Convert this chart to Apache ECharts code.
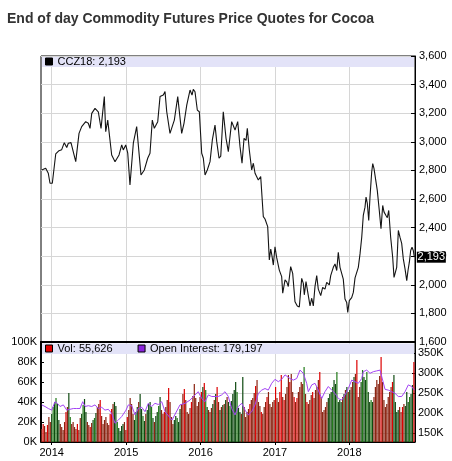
<!DOCTYPE html>
<html>
<head>
<meta charset="utf-8">
<title>Cocoa futures</title>
<script src="https://cdn.jsdelivr.net/npm/echarts@6/dist/echarts.min.js"></script>
<style>
  html, body { margin: 0; padding: 0; background: #fff; }
  #chart { width: 452px; height: 461px; }
</style>
</head>
<body>
<div id="chart"></div>
<script>
// x values are decimal years (2014.5 = mid 2014)
const yearTicks = [2014, 2015, 2016, 2017, 2018];
const oiTicks = [150, 200, 250, 300, 350];

const lastPrice = 2193;
const lastVol = 55626;
const lastOI = 179197;

// CCZ18 close
const priceData = [
  [2013.866,2803],[2013.887,2790],[2013.919,2815],[2013.954,2780],[2013.977,2710],[2014.008,2710],
  [2014.054,2915],[2014.098,2938],[2014.134,2945],[2014.169,2994],[2014.202,2960],[2014.223,2990],
  [2014.259,2994],[2014.323,2861],[2014.367,3059],[2014.403,3106],[2014.457,3141],[2014.492,3130],
  [2014.515,3094],[2014.538,3199],[2014.582,3234],[2014.626,3210],[2014.663,3094],[2014.707,3316],
  [2014.726,3071],[2014.753,3152],[2014.806,2908],[2014.851,2861],[2014.905,2908],[2014.941,2978],
  [2014.962,2943],[2014.995,2978],[2015.022,2920],[2015.052,2698],[2015.097,2990],[2015.142,3106],
  [2015.200,2768],[2015.245,2803],[2015.290,2885],[2015.321,2920],[2015.352,3152],[2015.379,3094],
  [2015.425,3141],[2015.456,3316],[2015.500,3327],[2015.523,3351],[2015.546,3210],[2015.590,3059],
  [2015.648,3152],[2015.694,3316],[2015.747,3059],[2015.778,3129],[2015.815,3257],[2015.836,3245],
  [2015.859,3362],[2015.886,3327],[2015.903,3367],[2015.926,3350],[2015.957,3222],[2015.984,3210],
  [2016.016,2920],[2016.038,2885],[2016.061,2768],[2016.091,2803],[2016.128,2861],[2016.159,3013],
  [2016.195,3117],[2016.218,3001],[2016.249,2885],[2016.272,2900],[2016.306,3210],[2016.343,3024],
  [2016.374,2931],[2016.419,3141],[2016.464,3082],[2016.500,3141],[2016.531,2966],[2016.558,2850],
  [2016.585,3024],[2016.612,3010],[2016.629,3094],[2016.656,2943],[2016.688,2803],[2016.710,2850],
  [2016.733,2780],[2016.755,2768],[2016.777,2733],[2016.809,2757],[2016.844,2477],[2016.867,2460],
  [2016.903,2407],[2016.925,2174],[2016.944,2250],[2016.961,2200],[2016.979,2138],[2017.001,2266],
  [2017.024,2190],[2017.059,2103],[2017.091,2057],[2017.105,1941],[2017.136,2034],[2017.159,2020],
  [2017.180,1988],[2017.212,2127],[2017.239,2080],[2017.270,1882],[2017.301,1852],[2017.328,1845],
  [2017.360,2045],[2017.382,2010],[2017.395,1930],[2017.418,2022],[2017.441,2010],[2017.472,1852],
  [2017.495,1906],[2017.516,1852],[2017.539,1989],[2017.562,2064],[2017.583,1970],[2017.616,1924],
  [2017.642,1982],[2017.673,1970],[2017.696,2017],[2017.731,2000],[2017.750,2064],[2017.785,2122],
  [2017.808,2146],[2017.831,2100],[2017.852,2228],[2017.875,2122],[2017.898,2110],[2017.919,2040],
  [2017.942,1901],[2017.965,1877],[2017.979,1807],[2018.000,1889],[2018.032,1910],[2018.054,1947],
  [2018.077,2048],[2018.100,2040],[2018.121,2122],[2018.144,2216],[2018.167,2333],[2018.188,2485],
  [2018.211,2543],[2018.225,2613],[2018.242,2570],[2018.261,2450],[2018.278,2613],[2018.301,2789],
  [2018.315,2847],[2018.332,2812],[2018.346,2800],[2018.376,2660],[2018.403,2520],[2018.426,2392],
  [2018.449,2555],[2018.466,2510],[2018.493,2485],[2018.511,2470],[2018.530,2520],[2018.556,2333],
  [2018.583,2193],[2018.601,2052],[2018.637,2122],[2018.659,2380],[2018.681,2333],[2018.704,2290],
  [2018.726,2181],[2018.749,2111],[2018.772,2029],[2018.789,2100],[2018.807,2158],[2018.825,2240],
  [2018.843,2263],[2018.860,2240],[2018.874,2193]
];

// open interest, thousands
const oiData = [
  [2013.866,221],[2013.910,217],[2013.954,212],[2014.000,208],[2014.044,229],[2014.075,225],
  [2014.112,217],[2014.156,221],[2014.202,208],[2014.246,210],[2014.290,212],[2014.336,212],
  [2014.380,212],[2014.417,229],[2014.448,217],[2014.492,219],[2014.538,217],[2014.582,221],
  [2014.626,212],[2014.672,215],[2014.716,208],[2014.761,210],[2014.806,200],[2014.851,175],
  [2014.895,183],[2014.941,192],[2014.999,208],[2015.030,221],[2015.075,219],[2015.120,196],
  [2015.164,212],[2015.210,215],[2015.254,204],[2015.298,225],[2015.344,217],[2015.388,225],
  [2015.433,222],[2015.479,229],[2015.523,204],[2015.617,183],[2015.724,221],[2015.792,225],
  [2015.859,233],[2015.926,246],[2015.970,254],[2016.016,237],[2016.061,229],[2016.105,246],
  [2016.151,242],[2016.239,242],[2016.285,246],[2016.329,254],[2016.374,242],[2016.419,212],
  [2016.464,196],[2016.508,217],[2016.554,225],[2016.598,208],[2016.643,196],[2016.688,204],
  [2016.733,221],[2016.777,250],[2016.823,258],[2016.867,262],[2016.911,258],[2016.957,275],
  [2017.001,285],[2017.046,279],[2017.091,285],[2017.136,296],[2017.203,287],[2017.247,283],
  [2017.293,287],[2017.337,308],[2017.382,300],[2017.427,275],[2017.449,254],[2017.495,271],
  [2017.539,275],[2017.583,258],[2017.629,237],[2017.673,254],[2017.718,267],[2017.763,258],
  [2017.808,250],[2017.852,237],[2017.898,233],[2017.942,246],[2017.987,262],[2018.032,283],
  [2018.077,279],[2018.121,275],[2018.167,287],[2018.188,304],[2018.234,308],[2018.278,300],
  [2018.323,304],[2018.368,306],[2018.413,308],[2018.436,304],[2018.480,260],[2018.524,258],
  [2018.570,254],[2018.614,250],[2018.659,242],[2018.704,242],[2018.749,254],[2018.793,271],
  [2018.839,267],[2018.874,258]
];

// weekly volume, thousands, first week = 8 Nov 2013
const volStart = 2013.866;
const volume = [
  13,18,16,10,17,25,20, 28,35,40,44,38,22, 18,15,12,20,30,35,49,25,
  18,20,15,13,18,12, 24,28,37,43,30, 20,17,15,19,22, 24,29,35,38,42,26,
  18,22,25,19,17, 28,33,38,40,36,20, 14,11,16,18,20,12, 25,32,44,38,28,
  22,30,35,40,48,33,26,21, 28,32,38,40,35,24, 20,26,30,36,45,32,28,
  30,35,42,54,40,25, 18,22,26,24,20, 33,38,48,53,42,30, 28,34,40,46,58,44,
  36,40,45,50,55,59,52, 35,32,30,34,38, 42,48,55,40,32,35, 37,38,42,45,40,36,
  41,48,52,60,50,34,30, 28,65,35,25,30,33, 38,42,44,49,56,62,40,36,
  30,28,35,40,45,50,38,
  35,40,42,55,44,40,50,67,45,42,48,55,67,60,68,50,
  45,40,44,50,55,60,58,75,48, 40,38,42,47,50,44,52,55,62,70,45,
  30,32,35,40,44,48, 50,55,62,58,70,40,42, 40,45,48,52,55,50,
  52,55,60,65,68,82,45, 55,60,72,65,62,70,50, 40,42,40,45,55,62,58,
  66,85,60,42, 35,38,45,50,55,60,67,40,30,
  32,35,30,35,38,36,50,40,45,48,57,80
];

// bar colour per week: R red, r dark red, G green, g dark green
const volColors = [
  'rRrrRrr', 'gGgGggr', 'rrrRrgGrrrrRrr', 'gGgg', 'rrRrgGg', 'rrRrrrrrrRRr',
  'ggGgggg', 'rrRrrrr', 'gGgrggGgrgggGgrggGg', 'rrRrrRrrr', 'ggGgg',
  'rrRrrrrRrrrrrr', 'RgRGgrr', 'rgrgRrgrgrgr', 'gGggggGgg', 'rgrrrrRrrrRr',
  'rrRrrrRrrrr', 'rRrrRRrRrrrRrrRrRrrrr', 'Gr', 'RrrrRrrrrRrrrrr', 'gggGggGgg',
  'grgrgrgrrgrRrr', 'gGggGggGg', 'rrrrrRrrrrrrrR', 'gggg', 'rrRr', 'gggGggR'
].join('');

const FONT = 'Liberation Sans';
const GRID_L = 41, GRID_R = 415, PRICE_TOP = 56, SPLIT_Y = 342, VOL_BOTTOM = 442;
const X_MIN = 2013.856, X_MAX = 2018.883;
const WEEK = 7 / 365.25;
const BAND = '#e3e3f8';
const GRIDLINE = '#d6d6d6';
const BAR_COLORS = { R: '#dc0000', r: '#8a2210', G: '#217a18', g: '#0f4a10' };

const fmt = n => n.toLocaleString('en-US');

const volBars = volume.map((v, i) => ({
  value: [volStart + i * WEEK, v],
  itemStyle: { color: BAR_COLORS[volColors[i]] || BAR_COLORS.r }
}));

const chart = echarts.init(document.getElementById('chart'), null, { renderer: 'canvas' });

const labelStyle = { fontFamily: FONT, fontSize: 11, color: '#000' };

const option = {
  animation: false,
  backgroundColor: '#fff',
  title: {
    text: 'End of day Commodity Futures Price Quotes for Cocoa',
    left: 2,
    top: 7,
    textStyle: { fontFamily: FONT, fontSize: 14, fontWeight: 'bold', color: '#333' }
  },
  graphic: [
    {
      type: 'rect', z: 1, silent: true,
      shape: { x: GRID_L + 1, y: PRICE_TOP + 1, width: GRID_R - GRID_L - 2, height: 10 },
      style: { fill: BAND }
    },
    {
      type: 'rect', z: 1, silent: true,
      shape: { x: GRID_L + 1, y: SPLIT_Y + 1.5, width: GRID_R - GRID_L - 2, height: 10.5 },
      style: { fill: BAND }
    }
  ],
  legend: [
    {
      data: ['CCZ18'],
      left: GRID_L + 4, top: PRICE_TOP, padding: 0,
      icon: 'rect', itemWidth: 7, itemHeight: 7,
      selectedMode: false,
      itemStyle: { borderColor: '#000', borderWidth: 1 },
      textStyle: labelStyle,
      formatter: n => n + ': ' + fmt(lastPrice)
    },
    {
      data: ['Vol', 'Open Interest'],
      left: GRID_L + 4, top: SPLIT_Y + 1, padding: 0,
      icon: 'rect', itemWidth: 7, itemHeight: 7, itemGap: 25,
      selectedMode: false,
      itemStyle: { borderColor: '#000', borderWidth: 1 },
      textStyle: labelStyle,
      formatter: n => n === 'Vol' ? 'Vol: ' + fmt(lastVol) : n + ': ' + fmt(lastOI)
    }
  ],
  grid: [
    { left: GRID_L, width: GRID_R - GRID_L, top: PRICE_TOP, height: SPLIT_Y - PRICE_TOP,
      show: true, borderColor: '#000', borderWidth: 1 },
    { left: GRID_L, width: GRID_R - GRID_L, top: SPLIT_Y, height: VOL_BOTTOM - SPLIT_Y,
      show: true, borderColor: '#000', borderWidth: 1 }
  ],
  xAxis: [
    {
      gridIndex: 0, type: 'value', min: X_MIN, max: X_MAX,
      axisLine: { show: true, onZero: false, lineStyle: { color: '#000', width: 2 } },
      axisTick: { show: false, customValues: yearTicks },
      axisLabel: { show: false, customValues: yearTicks },
      splitLine: { show: true, lineStyle: { color: GRIDLINE } }
    },
    {
      gridIndex: 1, type: 'value', min: X_MIN, max: X_MAX,
      axisLine: { show: true, onZero: false, lineStyle: { color: '#000' } },
      axisTick: { show: true, customValues: yearTicks, length: 3, lineStyle: { color: '#000' } },
      axisLabel: Object.assign({ customValues: yearTicks, margin: 5, formatter: v => String(v) }, labelStyle),
      splitLine: { show: true, lineStyle: { color: GRIDLINE } }
    }
  ],
  yAxis: [
    {
      gridIndex: 0, type: 'value', position: 'right',
      min: 1600, max: 3600, interval: 200,
      axisLine: { show: true, lineStyle: { color: '#000' } },
      axisTick: { show: true, inside: true, length: 4, lineStyle: { color: '#000' } },
      axisLabel: Object.assign({ margin: 4, formatter: v => fmt(v) }, labelStyle),
      splitLine: { show: true, lineStyle: { color: GRIDLINE } }
    },
    {
      gridIndex: 1, type: 'value', position: 'left',
      min: 0, max: 100, interval: 20,
      axisLine: { show: true, lineStyle: { color: '#000', width: 2 } },
      axisTick: { show: true, inside: true, length: 3, lineStyle: { color: '#000' } },
      axisLabel: Object.assign({ margin: 4, formatter: '{value}K' }, labelStyle),
      splitLine: { show: false }
    },
    {
      gridIndex: 1, type: 'value', position: 'right',
      min: 128.25, max: 378.25,
      axisLine: { show: true, lineStyle: { color: '#000' } },
      axisTick: { show: true, inside: true, length: 3, customValues: oiTicks, lineStyle: { color: '#000' } },
      axisLabel: Object.assign({ margin: 3, customValues: oiTicks, formatter: '{value}K' }, labelStyle),
      splitLine: { show: true, lineStyle: { color: GRIDLINE } }
    }
  ],
  series: [
    {
      name: 'CCZ18',
      type: 'line',
      xAxisIndex: 0, yAxisIndex: 0,
      data: priceData,
      showSymbol: false,
      color: '#000',
      lineStyle: { color: '#141414', width: 1.1 },
      markPoint: {
        silent: true,
        symbol: 'rect',
        symbolSize: [29, 11],
        symbolOffset: [17, 0],
        itemStyle: { color: '#000' },
        label: { show: true, color: '#fff', fontFamily: FONT, fontSize: 11, formatter: () => fmt(lastPrice) },
        data: [{ coord: [priceData[priceData.length - 1][0], lastPrice] }]
      }
    },
    {
      name: 'Vol',
      type: 'bar',
      xAxisIndex: 1, yAxisIndex: 1,
      data: volBars,
      barWidth: 1.2,
      color: '#e00000',
      itemStyle: { color: '#e00000' }
    },
    {
      name: 'Open Interest',
      type: 'line',
      xAxisIndex: 1, yAxisIndex: 2,
      data: oiData,
      showSymbol: false,
      z: 3,
      color: '#8a22dd',
      lineStyle: { color: '#a445f5', width: 1 }
    }
  ]
};

chart.setOption(option);
</script>
</body>
</html>
